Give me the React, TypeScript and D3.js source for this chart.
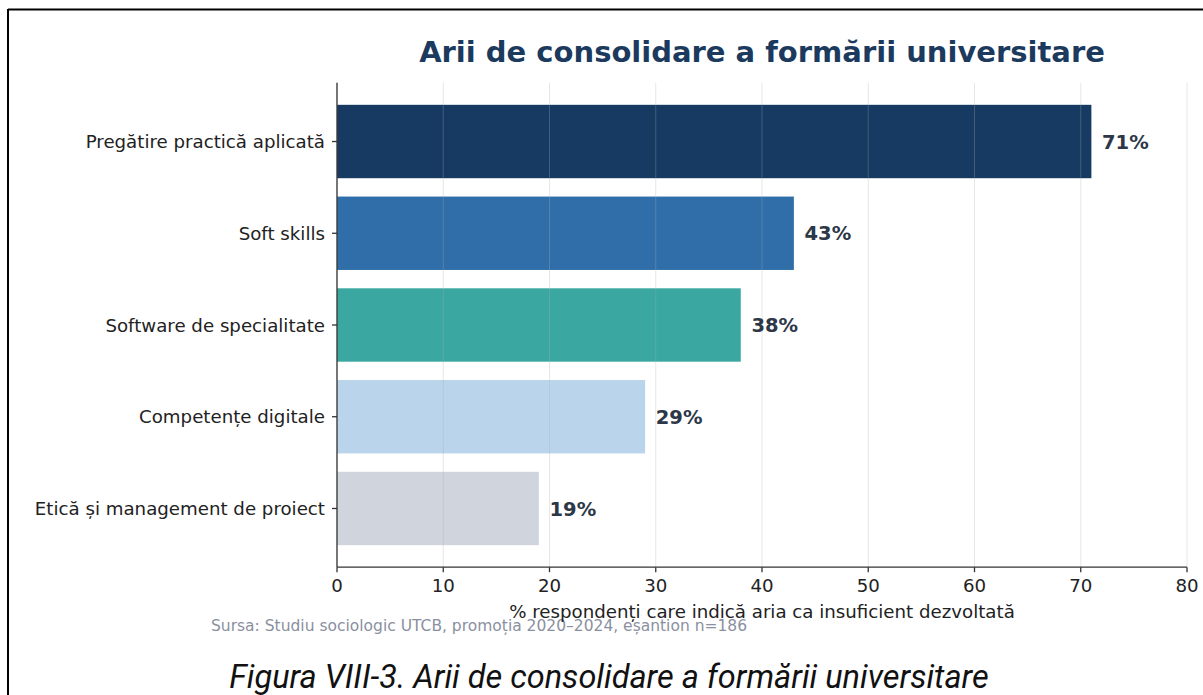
import React from "react";
import * as d3 from "d3";

const categories = [
  "Pregătire practică aplicată",
  "Soft skills",
  "Software de specialitate",
  "Competențe digitale",
  "Etică și management de proiect",
];
const values = [71, 43, 38, 29, 19];
const barColors = ["#173a62", "#2f6ea9", "#3aa7a1", "#b9d4eb", "#d0d4dd"];
const xTicks = [0, 10, 20, 30, 40, 50, 60, 70, 80];

const W = 1203;
const H = 695;
const left = 337;
const right = 1187;
const top = 82.8;
const bottom = 567.2;

export default function App() {
  const x = d3.scaleLinear().domain([0, 80]).range([left, right]);
  const y = d3.scaleLinear().domain([-0.64, 4.64]).range([top, bottom]);
  const barH = y(0.4) - y(0);
  const font = "DejaVu Sans, sans-serif";
  const cx = (left + right) / 2;
  return (
    <div style={{ position: "absolute", left: 0, top: 0, width: W, height: H, background: "#fff" }}>
      <svg width={W} height={H} style={{ display: "block" }}>
        <rect x={0} y={0} width={W} height={H} fill="#fff" />
        <line x1={8} y1={9.5} x2={W + 5} y2={9.5} stroke="#000" strokeWidth={2} />
        <line x1={8} y1={9} x2={8} y2={H + 5} stroke="#000" strokeWidth={2} />
        <text x={cx} y={62} textAnchor="middle" fontFamily={font} fontWeight="bold" fontSize={29} fill="#1b3a5e">
          Arii de consolidare a formării universitare
        </text>
        {categories.map((c, i) => (
          <rect key={c} x={x(0)} y={y(i) - barH} width={x(values[i]) - x(0)} height={barH * 2} fill={barColors[i]} />
        ))}
        {xTicks.map((t) => (
          <line key={"g" + t} x1={x(t)} x2={x(t)} y1={top} y2={bottom} stroke="#b0b0b0" strokeOpacity={0.3} strokeWidth={1} />
        ))}
        {categories.map((c, i) => (
          <text key={"v" + c} x={x(values[i] + 1)} y={y(i)} dy="0.36em" fontFamily={font} fontWeight="bold" fontSize={19.5} fill="#2d3748">
            {values[i]}%
          </text>
        ))}
        <line x1={left} x2={left} y1={top} y2={bottom} stroke="#333" strokeWidth={1.3} />
        <line x1={left} x2={right} y1={bottom} y2={bottom} stroke="#333" strokeWidth={1.3} />
        {categories.map((c, i) => (
          <g key={"yt" + c}>
            <line x1={left - 5} x2={left} y1={y(i)} y2={y(i)} stroke="#333" strokeWidth={1.3} />
            <text x={left - 12} y={y(i)} dy="0.36em" textAnchor="end" fontFamily={font} fontSize={18.2} fill="#222">
              {c}
            </text>
          </g>
        ))}
        {xTicks.map((t) => (
          <g key={"xt" + t}>
            <line x1={x(t)} x2={x(t)} y1={bottom} y2={bottom + 5} stroke="#333" strokeWidth={1.3} />
            <text x={x(t)} y={bottom + 25} textAnchor="middle" fontFamily={font} fontSize={18.2} fill="#222">
              {t}
            </text>
          </g>
        ))}
        <text x={211} y={631} fontFamily={font} fontSize={15.5} fill="#8a90a0">
          Sursa: Studiu sociologic UTCB, promoția 2020–2024, eșantion n=186
        </text>
        <text x={cx} y={618} textAnchor="middle" fontFamily={font} fontSize={18.2} fill="#222">
          % respondenți care indică aria ca insuficient dezvoltată
        </text>
        <text x={609} y={688} textAnchor="middle" fontFamily="Roboto, sans-serif" fontStyle="italic" fontSize={32.5} fill="#111">
          Figura VIII-3. Arii de consolidare a formării universitare
        </text>
      </svg>
    </div>
  );
}
